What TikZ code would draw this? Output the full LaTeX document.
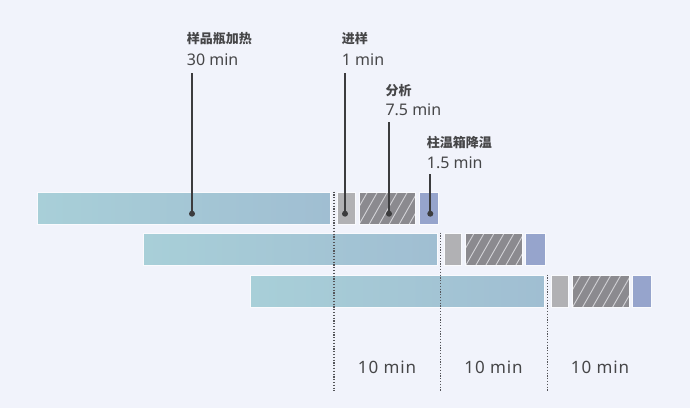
\documentclass[tikz,border=0pt]{standalone}
\usepackage{fontspec}
\setmainfont{Noto Sans}
\newfontfamily\cjk{Noto Sans CJK SC}
\definecolor{bg}{RGB}{241,243,251}
\definecolor{barL}{RGB}{168,207,216}
\definecolor{barR}{RGB}{160,190,210}
\definecolor{injc}{RGB}{177,177,180}
\definecolor{anac}{RGB}{139,138,143}
\definecolor{hatchc}{RGB}{210,210,214}
\definecolor{coolc}{RGB}{150,164,204}
\definecolor{ink}{RGB}{60,60,62}
\definecolor{txt}{RGB}{70,70,72}
\definecolor{gridc}{RGB}{85,85,90}
\begin{document}
\begin{tikzpicture}[x=1pt,y=-1pt,
  box/.style={anchor=north west, inner sep=0pt, outer sep=0pt, minimum height=32.5pt, draw=white!60!bg, line width=0.7pt},
  heatbox/.style={box, left color=barL, right color=barR},
  injbox/.style={box, fill=injc},
  anabox/.style={box, fill=anac, path picture={
      \foreach \i in {-20,-10,...,60}
        \draw[hatchc, line width=0.9pt] ([xshift=\i pt]path picture bounding box.south west) -- ++(18.5pt,32.5pt);}},
  coolbox/.style={box, fill=coolc},
  gridline/.style={gridc, line width=1.3pt, dash pattern=on 1.2pt off 1.6pt},
  dotn/.style={circle, fill=ink, inner sep=0pt, minimum size=6pt},
  leader/.style={ink, line width=1.8pt},
  cjklbl/.style={anchor=base west, inner sep=0pt, text=txt, font=\cjk\bfseries\fontsize{13}{15}\selectfont},
  numlbl/.style={anchor=base west, inner sep=0pt, text=txt, font=\fontsize{16}{19}\selectfont},
  durlbl/.style={anchor=base, inner sep=0pt, text=txt, font=\fontsize{17}{20}\selectfont\addfontfeature{LetterSpace=5}}
]
\fill[bg] (0,0) rectangle (690,408);
\useasboundingbox (0,0) rectangle (690,408);

\foreach \r/\s/\t in {1/37/192, 2/143.7/233, 3/250.4/275}{
  \node[heatbox, minimum width=293.5pt] (bar\r) at (\s,\t) {};
  \node[injbox, minimum width=17.5pt] (inj\r) at (\s+300.5,\t) {};
  \node[anabox, minimum width=56.5pt] (ana\r) at (\s+322,\t) {};
  \node[coolbox, minimum width=19.3pt] (cool\r) at (\s+382,\t) {};
}
\foreach \g/\x/\t in {1/334/191.5, 2/440.7/232.5, 3/547.4/274.5}{
  \coordinate (gt\g) at (\x,\t);
  \coordinate (gb\g) at (\x,391);
  \draw[gridline] (gt\g) -- (gb\g);
}

% annotations
\node[cjklbl] (t1) at (186.7,43.3) {样品瓶加热};
\node[numlbl] (n1) at (186.7,65) {30 min};
\coordinate (c1) at (192,73.3);
\node[dotn] (d1) at (192,213.7) {};
\draw[leader] (c1) -- (d1.center);

\node[cjklbl] (t2) at (341.7,43.3) {进样};
\node[numlbl] (n2) at (341.7,65) {1 min};
\coordinate (c2) at (345,73.3);
\node[dotn] (d2) at (345,213.7) {};
\draw[leader] (c2) -- (d2.center);

\node[cjklbl] (t3) at (385.3,95.3) {分析};
\node[numlbl] (n3) at (385.3,115.7) {7.5 min};
\coordinate (c3) at (389,122.3);
\node[dotn] (d3) at (389,213.7) {};
\draw[leader] (c3) -- (d3.center);

\node[cjklbl] (t4) at (426.7,147) {柱温箱降温};
\node[numlbl] (n4) at (426.7,168) {1.5 min};
\coordinate (c4) at (430.3,174);
\node[dotn] (d4) at (430.3,213.7) {};
\draw[leader] (c4) -- (d4.center);

\node[durlbl] (m1) at (387,373.3) {10 min};
\node[durlbl] (m2) at (493.5,373.3) {10 min};
\node[durlbl] (m3) at (600,373.3) {10 min};
\end{tikzpicture}
\end{document}
